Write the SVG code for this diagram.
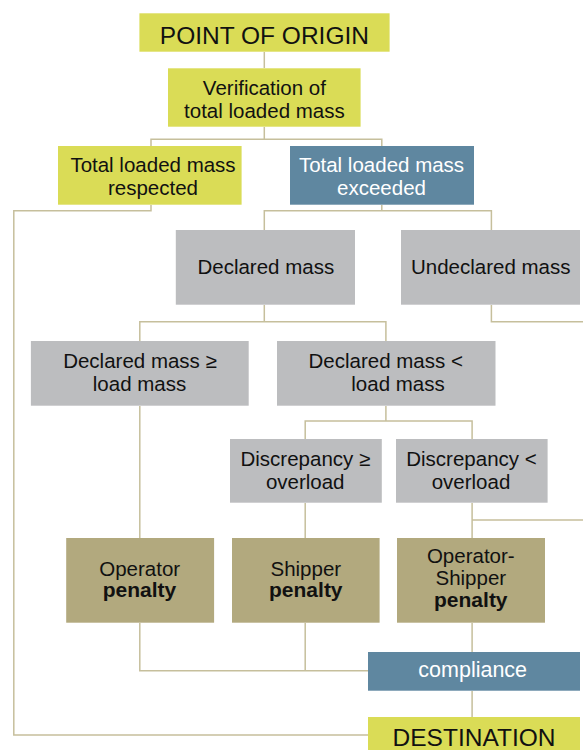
<svg xmlns="http://www.w3.org/2000/svg" width="583" height="750" viewBox="0 0 583 750">
<style>
.y{fill:#dadc56}.b{fill:#5f87a0}.g{fill:#bcbdbf}.k{fill:#b2a97e}
text{font-family:"Liberation Sans",Arial,sans-serif;font-size:20.5px;text-anchor:middle;fill:#111}
.w{fill:#fff}.bd{font-weight:bold;font-size:21px}.big{font-size:24.5px}
.c{fill:none;stroke:#c6bf9c;stroke-width:1.5}
</style>
<rect width="583" height="750" fill="#fff"/>
<g id="connectors" class="c">
<path d="M264.3 52V68"/>
<path d="M264.3 127V139.3M151 146V139.3H381.8V146"/>
<path d="M151 205V210.7H13.8V735H368"/>
<path d="M381.8 205V210.7M264.3 230V210.7H491.4V230"/>
<path d="M491.4 305V321.7H583"/>
<path d="M264.3 305V321.7M139.8 341V321.7H385.9V341"/>
<path d="M139.8 406V538"/>
<path d="M385.9 406V421M305.2 439V421H472.1V439"/>
<path d="M305.2 503V538"/>
<path d="M472.1 503V538M472.1 520H583"/>
<path d="M139.8 623V670.7H368M305.2 623V670.7"/>
<path d="M472.1 623V652M472.1 691V717"/>
</g>
<g id="origin"><rect class="y" x="139.4" y="13.3" width="250.2" height="38.4"/><text class="big" x="264.4" y="44">POINT OF ORIGIN</text></g>
<g id="verification"><rect class="y" x="168" y="68.3" width="192.6" height="58.4"/><text x="264.4" y="95">Verification of</text><text x="264.4" y="118.3">total loaded mass</text></g>
<g id="respected"><rect class="y" x="58" y="146" width="183.6" height="58.7"/><text x="153" y="171.7">Total loaded mass</text><text x="153" y="195">respected</text></g>
<g id="exceeded"><rect class="b" x="290" y="146" width="184" height="58.7"/><text class="w" x="381.5" y="171.7">Total loaded mass</text><text class="w" x="381.5" y="195">exceeded</text></g>
<g id="declared"><rect class="g" x="175.8" y="230" width="179.2" height="74.7"/><text x="265.8" y="274">Declared mass</text></g>
<g id="undeclared"><rect class="g" x="401" y="230" width="179" height="74.7"/><text x="490.7" y="274">Undeclared mass</text></g>
<g id="declared-ge"><rect class="g" x="30.9" y="341" width="217.8" height="64.7"/><text x="140" y="367.7">Declared mass ≥</text><text x="139.5" y="391">load mass</text></g>
<g id="declared-lt"><rect class="g" x="277" y="341" width="218.5" height="64.7"/><text x="385.7" y="367.7">Declared mass &lt;</text><text x="398" y="391">load mass</text></g>
<g id="disc-ge"><rect class="g" x="230" y="439" width="151.8" height="63.7"/><text x="305.4" y="466">Discrepancy ≥</text><text x="305.2" y="489.3">overload</text></g>
<g id="disc-lt"><rect class="g" x="396" y="439" width="151.6" height="63.7"/><text x="471.5" y="466">Discrepancy &lt;</text><text x="471" y="489.3">overload</text></g>
<g id="operator"><rect class="k" x="66.2" y="538" width="147.9" height="84.7"/><text x="139.7" y="575.7">Operator</text><text class="bd" x="139.5" y="596.7">penalty</text></g>
<g id="shipper"><rect class="k" x="232" y="538" width="147.6" height="84.7"/><text x="305.8" y="575.7">Shipper</text><text class="bd" x="305.8" y="596.7">penalty</text></g>
<g id="operator-shipper"><rect class="k" x="397" y="538" width="148" height="84.7"/><text x="470.8" y="562.7">Operator-</text><text x="470.8" y="585">Shipper</text><text class="bd" x="470.8" y="607.3">penalty</text></g>
<g id="compliance"><rect class="b" x="368" y="652" width="212" height="38.7"/><text class="w" x="472.7" y="677.3" style="font-size:21.5px">compliance</text></g>
<g id="destination"><rect class="y" x="368" y="717" width="212" height="40"/><text class="big" x="474" y="745.7">DESTINATION</text></g>
</svg>
